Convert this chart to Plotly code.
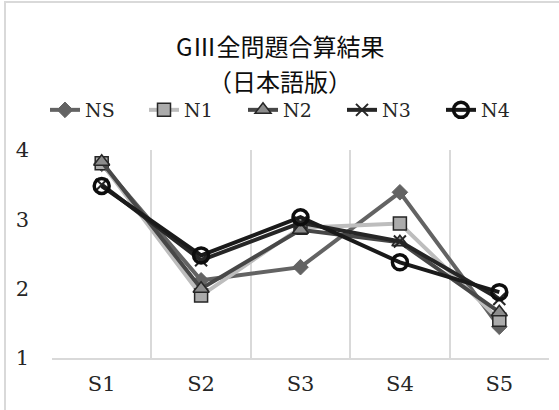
import plotly.graph_objects as go

categories = ["S1", "S2", "S3", "S4", "S5"]
ns = [3.80, 2.12, 2.31, 3.39, 1.45]
n1 = [3.81, 1.90, 2.88, 2.94, 1.55]
n2 = [3.83, 2.00, 2.85, 2.67, 1.66]
n3 = [3.50, 2.41, 2.95, 2.68, 1.85]
n4 = [3.48, 2.48, 3.03, 2.38, 1.95]
y_ticks = [1, 2, 3, 4]

W, H = 559, 410
L, R, T, B = 52, 10, 150, 52
pw, ph = W - L - R, H - T - B

def px(x):
    return (x - L) / pw

def py(y):
    return (H - B - y) / ph

serif = "Century Schoolbook, DejaVu Serif, Liberation Serif, serif"

series = [
    ("NS", ns, "#636363", dict(symbol="diamond", size=12, color="#636363", line=dict(color="#636363", width=1))),
    ("N1", n1, "#BDBDBD", dict(symbol="square", size=13, color="#ABABAB", line=dict(color="#262626", width=1.5))),
    ("N2", n2, "#474747", dict(symbol="triangle-up", size=14, color="#8C8C8C", line=dict(color="#262626", width=1.5))),
    ("N3", n3, "#262626", dict(symbol="x-thin", size=12, color="#262626", line=dict(color="#262626", width=2))),
    ("N4", n4, "#1A1A1A", dict(symbol="circle-open", size=15, color="#0D0D0D", line=dict(color="#0D0D0D", width=3.5))),
]

fig = go.Figure()
for name, vals, col, mk in series:
    fig.add_trace(go.Scatter(
        x=categories, y=vals, name=name, mode="lines+markers",
        line=dict(color=col, width=4), marker=mk, cliponaxis=False,
    ))

fig.update_layout(
    width=W, height=H,
    margin=dict(l=L, r=R, t=T, b=B, autoexpand=False),
    paper_bgcolor="white", plot_bgcolor="white",
    showlegend=True,
    legend=dict(orientation="h", x=px(45), xanchor="left", y=py(110), yanchor="middle",
                font=dict(family=serif, size=19, color="#262626"),
                entrywidth=54, entrywidthmode="pixels",
                tracegroupgap=0, itemsizing="trace"),
    font=dict(family=serif, color="#262626"),
    annotations=[
        dict(text="GⅢ全問題合算結果", x=px(280), y=py(45), xref="paper", yref="paper",
             xanchor="center", yanchor="middle",
             showarrow=False, font=dict(family="Noto Sans CJK JP", size=24, color="#0D0D0D")),
        dict(text="（日本語版）", x=px(280), y=py(80), xref="paper", yref="paper",
             xanchor="center", yanchor="middle",
             showarrow=False, font=dict(family="Noto Sans CJK JP", size=24, color="#0D0D0D")),
    ],
    shapes=[
        dict(type="rect", xref="paper", yref="paper", x0=px(5), x1=px(700), y0=py(700), y1=py(2),
             line=dict(color="#D9D9D9", width=2), fillcolor="rgba(0,0,0,0)", layer="below"),
    ],
)
fig.update_xaxes(type="category", range=[-0.5, 4.5], tickson="boundaries", showgrid=True,
                 gridcolor="#D9D9D9", gridwidth=1.5,
                 showline=True, linecolor="#D9D9D9", linewidth=1.5, ticks="", mirror=False,
                 tickfont=dict(family=serif, size=21, color="#262626"), ticklabelstandoff=6)
fig.update_yaxes(range=[1, 4], tickvals=y_ticks, showgrid=False, zeroline=False, showline=False,
                 tickfont=dict(family=serif, size=21, color="#262626"), ticklabelstandoff=22)

fig.write_html("out.html", config={"displayModeBar": False},
               post_script="document.body.style.margin='0';")
